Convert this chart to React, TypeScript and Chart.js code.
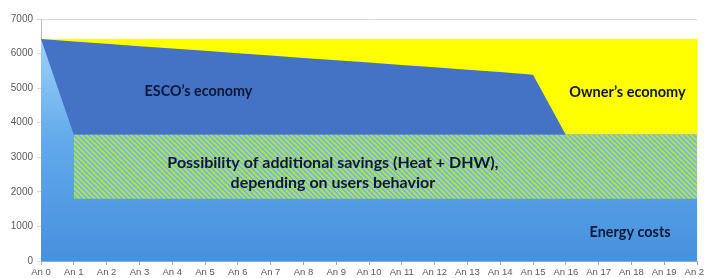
import React, { useEffect, useRef } from "react";
import { Chart, registerables } from "chart.js";

Chart.register(...registerables);

const labels = [
  "An 0", "An 1", "An 2", "An 3", "An 4", "An 5", "An 6", "An 7", "An 8", "An 9", "An 10",
  "An 11", "An 12", "An 13", "An 14", "An 15", "An 16", "An 17", "An 18", "An 19", "An 20",
];

// Total (owner's economy top)
const ownerTop = [6430, 6430, 6430, 6430, 6430, 6430, 6430, 6430, 6430, 6430, 6430,
  6430, 6430, 6430, 6430, 6430, 6430, 6430, 6430, 6430, 6430];
// ESCO's economy top
const escoTop = [6420, 6350, 6285, 6215, 6150, 6080, 6010, 5945, 5875, 5810, 5740,
  5670, 5605, 5535, 5470, 5390, 3650, 3650, 3650, 3650, 3650];
// Energy costs
const energyCosts = [6420, 3650, 3650, 3650, 3650, 3650, 3650, 3650, 3650, 3650, 3650,
  3650, 3650, 3650, 3650, 3650, 3650, 3650, 3650, 3650, 3650];
// Possibility of additional savings band
const savingsTop = [null, 3650, 3650, 3650, 3650, 3650, 3650, 3650, 3650, 3650, 3650,
  3650, 3650, 3650, 3650, 3650, 3650, 3650, 3650, 3650, 3650];
const savingsBottom = [null, 1800, 1800, 1800, 1800, 1800, 1800, 1800, 1800, 1800, 1800,
  1800, 1800, 1800, 1800, 1800, 1800, 1800, 1800, 1800, 1800];

const yTicks = { min: 0, max: 7000, step: 1000 };

const notes = [
  { lines: ["ESCO\u2019s economy"], x: 4.8, y: 4920, size: 14.3 },
  { lines: ["Owner\u2019s economy"], x: 17.88, y: 4890, size: 14.5 },
  { lines: ["Possibility of additional savings (Heat + DHW),", "depending on users behavior"], x: 8.9, y: 2835, size: 16 },
  { lines: ["Energy costs"], x: 17.96, y: 840, size: 14.4 },
];

function makeHatch(): CanvasPattern | string {
  const s = 5;
  const c = document.createElement("canvas");
  c.width = s;
  c.height = s;
  const g = c.getContext("2d");
  if (!g) return "#9ed25b";
  const img = g.createImageData(s, s);
  const green = [172, 220, 96];
  const blue = [112, 182, 234];
  for (let y = 0; y < s; y++) {
    for (let x = 0; x < s; x++) {
      const k = (((x - y) % s) + s) % s;
      const col = k < 3 ? green : blue;
      const i = (y * s + x) * 4;
      img.data[i] = col[0];
      img.data[i + 1] = col[1];
      img.data[i + 2] = col[2];
      img.data[i + 3] = 255;
    }
  }
  g.putImageData(img, 0, 0);
  return g.createPattern(c, "repeat") || "#9ed25b";
}

const notesPlugin = {
  id: "notes",
  afterDatasetsDraw(chart: any) {
    const { ctx } = chart;
    const xs = chart.scales.x;
    const ys = chart.scales.y;
    ctx.save();
    ctx.fillStyle = "#0f1733";
    ctx.textAlign = "center";
    ctx.textBaseline = "middle";
    for (const n of notes) {
      ctx.font = `bold ${n.size}px Lato, 'Noto Sans', sans-serif`;
      const px = xs.getPixelForValue(n.x);
      const py = ys.getPixelForValue(n.y);
      n.lines.forEach((t, i) => ctx.fillText(t, px, py + i * 20));
    }
    ctx.restore();
  },
};

export default function App() {
  const ref = useRef<HTMLCanvasElement | null>(null);

  useEffect(() => {
    document.body.style.margin = "0";
    document.body.style.overflow = "hidden";
    const canvas = ref.current;
    if (!canvas) return;
    const hatch = makeHatch();
    const transparent = "rgba(0,0,0,0)";
    const chart = new Chart(canvas, {
      type: "line",
      data: {
        labels,
        datasets: [
          {
            label: "Possibility of additional savings",
            data: savingsTop,
            fill: "+1",
            backgroundColor: hatch as any,
            borderColor: transparent,
            borderWidth: 0,
            pointRadius: 0,
            tension: 0,
          },
          {
            label: "savings bottom",
            data: savingsBottom,
            fill: false,
            borderColor: transparent,
            borderWidth: 0,
            pointRadius: 0,
          },
          {
            label: "Energy costs",
            data: energyCosts,
            fill: "origin",
            backgroundColor: (c: any) => {
              const { chart: ch } = c;
              const area = ch.chartArea;
              if (!area) return "#5aa3e6";
              const g = ch.ctx.createLinearGradient(0, area.top + 20, 0, area.bottom);
              g.addColorStop(0, "#9dd2fa");
              g.addColorStop(0.45, "#62aaec");
              g.addColorStop(1, "#4690dd");
              return g;
            },
            borderColor: transparent,
            borderWidth: 0,
            pointRadius: 0,
          },
          {
            label: "ESCO's economy",
            data: escoTop,
            fill: "origin",
            backgroundColor: "#4472c4",
            borderColor: transparent,
            borderWidth: 0,
            pointRadius: 0,
          },
          {
            label: "Owner's economy",
            data: ownerTop,
            fill: "origin",
            backgroundColor: "#ffff00",
            borderColor: transparent,
            borderWidth: 0,
            pointRadius: 0,
          },
        ],
      },
      options: {
        animation: false,
        responsive: false,
        layout: { padding: { top: 19, right: 7, left: 0, bottom: 0 } },
        plugins: {
          legend: { display: false },
          tooltip: { enabled: false },
        },
        scales: {
          x: {
            grid: {
              display: true,
              drawOnChartArea: false,
              drawTicks: true,
              tickLength: 4,
              color: "#a6a6a6",
            },
            border: { display: true, color: "#a6a6a6" },
            ticks: {
              autoSkip: false,
              maxRotation: 0,
              minRotation: 0,
              padding: 2,
              color: "#595959",
              font: { family: "'Liberation Sans', Arial, sans-serif", size: 9.5 },
            },
            afterFit: (s: any) => {
              s.height = 17;
              s.paddingLeft = 0;
              s.paddingRight = 0;
            },
          },
          y: {
            min: yTicks.min,
            max: yTicks.max,
            grid: { color: "#d9d9d9", tickLength: 4 },
            border: { display: true, color: "#bfbfbf" },
            ticks: {
              stepSize: yTicks.step,
              padding: 4,
              color: "#595959",
              font: { family: "'Liberation Sans', Arial, sans-serif", size: 10 },
              callback: (v: any) => String(v),
            },
            afterFit: (s: any) => {
              s.width = 41;
              s.paddingTop = 0;
              s.paddingBottom = 0;
            },
          },
        },
      },
      plugins: [notesPlugin],
    });
    return () => chart.destroy();
  }, []);

  return (
    <div style={{ width: 704, height: 278, overflow: "hidden" }}>
      <canvas ref={ref} width={704} height={278} style={{ display: "block" }} />
    </div>
  );
}
